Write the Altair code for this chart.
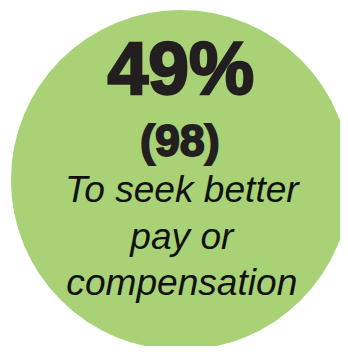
import altair as alt
import pandas as pd

pct_values = [49]
count_values = [98]
label_lines = ["To seek better", "pay or", "compensation"]

circle_df = pd.DataFrame({"pct": pct_values})
pct_df = pd.DataFrame({"txt": [f"{v}%" for v in pct_values]})
count_df = pd.DataFrame({"txt": [f"({v})" for v in count_values]})
label_df = pd.DataFrame({"txt": ["\n".join(label_lines)]})

circle = alt.Chart(circle_df).mark_circle(color="#a9d277", opacity=1).encode(
    x=alt.value(177), y=alt.value(172), size=alt.value(348 * 348)
)

pct_text = alt.Chart(pct_df).mark_text(
    font="Liberation Sans", fontWeight=900, fontSize=75, color="#231f20",
    stroke="#231f20", strokeWidth=2.5,
    align="center", baseline="alphabetic"
).encode(text="txt:N", x=alt.value(177), y=alt.value(84))

count_text = alt.Chart(count_df).mark_text(
    font="Liberation Sans", fontWeight="bold", fontSize=46, color="#231f20",
    stroke="#231f20", strokeWidth=1.8,
    align="center", baseline="alphabetic"
).encode(text="txt:N", x=alt.value(176), y=alt.value(147))

label_text = alt.Chart(label_df).mark_text(
    font="Liberation Sans", fontStyle="italic", fontWeight="normal", fontSize=38,
    color="#111111", align="center", baseline="alphabetic",
    lineBreak="\n", lineHeight=47.5
).encode(text="txt:N", x=alt.value(178), y=alt.value(195))

chart = alt.layer(circle, pct_text, count_text, label_text).properties(
    width=340, height=338, padding=0, autosize=alt.AutoSizeParams(type="none"),
    background="white"
).configure_view(stroke=None)

chart.save("out.html", embed_options={"renderer": "svg", "actions": False})
